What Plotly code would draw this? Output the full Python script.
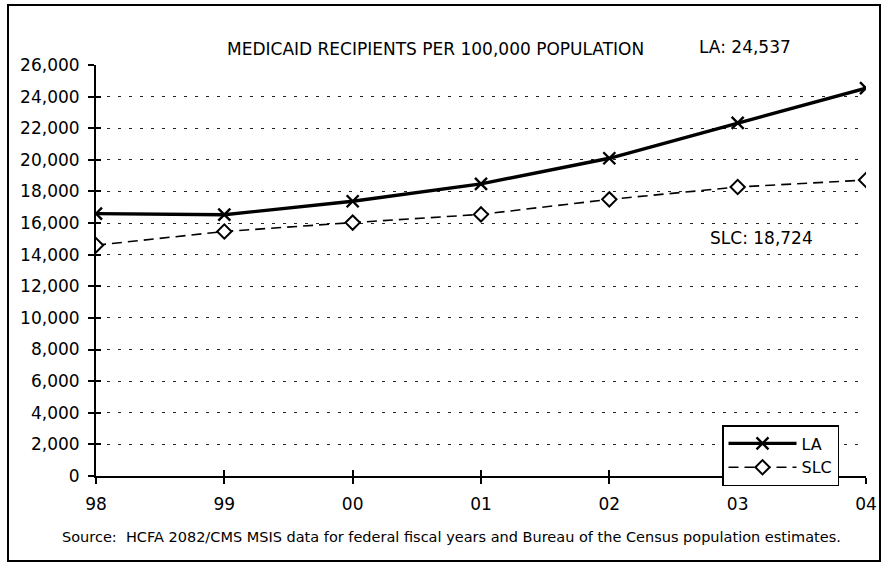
import plotly.graph_objects as go

years = ["98", "99", "00", "01", "02", "03", "04"]
la_values = [16600, 16530, 17380, 18480, 20100, 22340, 24537]
slc_values = [14600, 15470, 16030, 16550, 17500, 18280, 18724]
y_ticks = list(range(0, 26001, 2000))
y_tick_labels = [f"{v:,}" for v in y_ticks]

FONT = "DejaVu Sans"
xpos = list(range(len(years)))

fig = go.Figure()
fig.add_trace(go.Scatter(
    x=xpos, y=la_values, name="LA", mode="lines+markers",
    line=dict(color="black", width=3.4),
    marker=dict(symbol="x-thin-open", size=12, line=dict(color="black", width=2.4)),
))
fig.add_trace(go.Scatter(
    x=xpos, y=slc_values, name="SLC", mode="lines+markers",
    line=dict(color="black", width=1.6, dash="10px,6px"),
    marker=dict(symbol="diamond", size=11, color="white",
                line=dict(color="black", width=2)),
))
# invisible trace to carry the overlay axes that give "cross" ticks
fig.add_trace(go.Scatter(x=[0], y=[0], xaxis="x2", yaxis="y2", mode="markers",
                         marker=dict(opacity=0), showlegend=False, hoverinfo="skip"))

fig.update_layout(
    width=883, height=565,
    margin=dict(l=96, r=17, t=65, b=89, autoexpand=False),
    paper_bgcolor="white", plot_bgcolor="white",
    font=dict(family=FONT, color="black", size=15),
    showlegend=True,
    legend=dict(x=(722 - 96) / 770, y=(476 - 425) / 411, xanchor="left", yanchor="top",
                bgcolor="white", bordercolor="black", borderwidth=1.5,
                font=dict(size=16, family=FONT), tracegroupgap=0,
                itemwidth=68),
    xaxis=dict(range=[0, 6], tickmode="array", tickvals=xpos, ticktext=years,
               automargin=False,
               showgrid=False, zeroline=False, showline=True, linecolor="black",
               linewidth=2, ticks="outside", ticklen=6, tickwidth=1.5, tickcolor="black",
               ticklabelstandoff=6,
               tickfont=dict(size=17, family=FONT), fixedrange=True),
    yaxis=dict(range=[0, 26000], tickmode="array", tickvals=y_ticks, ticktext=y_tick_labels,
               automargin=False,
               showgrid=True, gridcolor="#222222", gridwidth=1, griddash="3px,8px",
               zeroline=False, showline=True, linecolor="black", linewidth=2,
               ticks="outside", ticklen=6, tickwidth=1.5, tickcolor="black",
               ticklabelstandoff=5,
               tickfont=dict(size=17, family=FONT), fixedrange=True),
    xaxis2=dict(range=[0, 6], overlaying="x", side="bottom", tickmode="array",
                automargin=False,
                tickvals=xpos, ticks="inside", ticklen=6, tickwidth=1.5, tickcolor="black",
                showticklabels=False, showgrid=False, zeroline=False, showline=False),
    yaxis2=dict(range=[0, 26000], overlaying="y", side="left", tickmode="array",
                automargin=False,
                tickvals=y_ticks, ticks="inside", ticklen=5, tickwidth=1.5, tickcolor="black",
                showticklabels=False, showgrid=False, zeroline=False, showline=False),
)

def px_x(p):
    return (p - 96) / 770

def px_y(p):
    return (476 - p) / 411

fig.add_annotation(text="MEDICAID RECIPIENTS PER 100,000 POPULATION",
                   xref="paper", yref="paper", x=px_x(435), y=px_y(49),
                   xanchor="center", yanchor="middle",
                   showarrow=False, font=dict(size=17, family=FONT))
fig.add_annotation(text="LA: 24,537", xref="paper", yref="paper",
                   x=px_x(745), y=px_y(47), xanchor="center", yanchor="middle",
                   showarrow=False, font=dict(size=17, family=FONT))
fig.add_annotation(text="SLC: 18,724", xref="paper", yref="paper",
                   x=px_x(761), y=px_y(238), xanchor="center", yanchor="middle",
                   showarrow=False, font=dict(size=17, family=FONT))
fig.add_annotation(text="Source:  HCFA 2082/CMS MSIS data for federal fiscal years and Bureau of the Census population estimates.",
                   xref="paper", yref="paper", x=px_x(451), y=px_y(537),
                   xanchor="center", yanchor="middle",
                   showarrow=False, font=dict(size=14.5, family=FONT))

# outer frame of the figure
fig.add_shape(type="rect", xref="paper", yref="paper",
              x0=px_x(8), x1=px_x(880), y0=px_y(561), y1=px_y(5),
              line=dict(color="black", width=2), fillcolor="rgba(0,0,0,0)", layer="below")

fig.write_html("out.html", config={"displayModeBar": False},
               post_script="document.body.style.margin='0';")
